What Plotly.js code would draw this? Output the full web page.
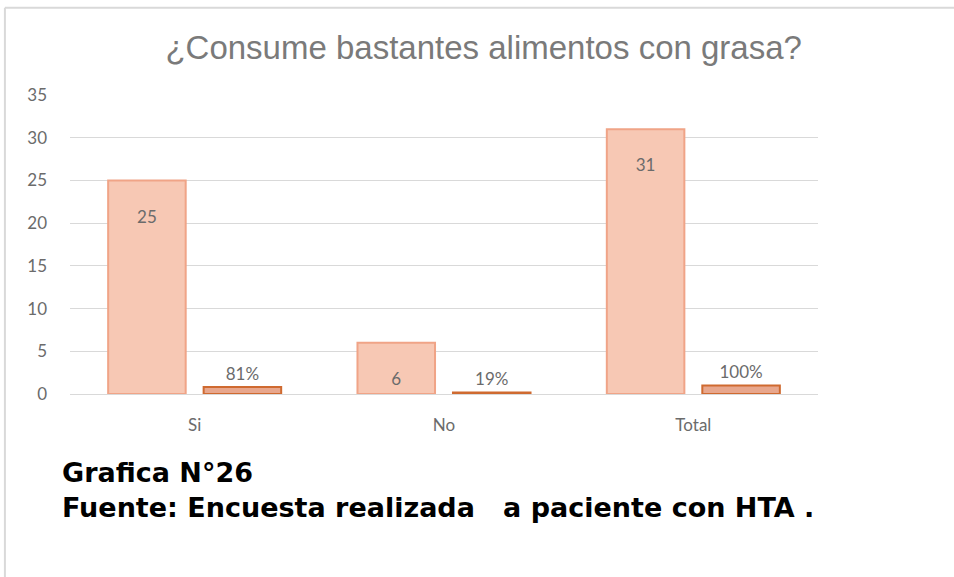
<!DOCTYPE html>
<html>
<head>
<meta charset="utf-8">
<script src="https://cdn.plot.ly/plotly-3.0.1.min.js"></script>
<style>
html,body{margin:0;padding:0;background:#fff;}
#chart{width:954px;height:577px;}
</style>
</head>
<body>
<div id="chart"></div>
<script>
const categories = ["Si", "No", "Total"];
const counts = [25, 6, 31];
const shares = [0.81, 0.19, 1.0];
const shareLabels = ["81%", "19%", "100%"];
const chartTitle = "¿Consume bastantes alimentos con grasa?";
const captionLine1 = "Grafica N°26";
const captionLine2 = "Fuente: Encuesta realizada\u00a0\u00a0\u00a0a paciente con HTA .";
const yTicks = [0, 5, 10, 15, 20, 25, 30, 35];

const labelFont = {family: "Lato, 'Open Sans', sans-serif", size: 17, color: "#6b6b6b"};

const traces = [
  {
    type: "bar",
    x: categories,
    y: counts,
    text: counts.map(v => "\u00a0<br>" + v),
    textposition: "inside",
    insidetextanchor: "end",
    constraintext: "none",
    textfont: labelFont,
    insidetextfont: labelFont,
    marker: {color: "#f7c8b4", line: {color: "#f0a487", width: 2}},
    hoverinfo: "skip",
    cliponaxis: false
  },
  {
    type: "bar",
    x: categories,
    y: shares,
    text: shareLabels,
    textposition: "outside",
    constraintext: "none",
    textfont: labelFont,
    outsidetextfont: labelFont,
    marker: {color: "#e8a78d", line: {color: "#cf6a30", width: 2}},
    hoverinfo: "skip",
    cliponaxis: false
  }
];

const layout = {
  width: 954,
  height: 577,
  margin: {l: 70, r: 136, t: 95, b: 183},
  paper_bgcolor: "#ffffff",
  plot_bgcolor: "#ffffff",
  showlegend: false,
  barmode: "group",
  bargap: 0.234,
  bargroupgap: 0.188,
  title: {
    text: chartTitle,
    x: 0.507, xanchor: "center", xref: "container",
    y: 47, yref: "container", yanchor: "middle",
    font: {family: "'Liberation Sans', Arial, sans-serif", size: 33, color: "#7a7a7a"}
  },
  xaxis: {
    showgrid: false,
    showline: false,
    zeroline: false,
    ticks: "",
    ticklabelstandoff: 19,
    tickfont: labelFont
  },
  yaxis: {
    range: [0, 35],
    tickvals: yTicks,
    ticktext: yTicks.map(String),
    showgrid: true,
    gridcolor: "#d9d9d9",
    gridwidth: 1,
    zeroline: true,
    zerolinecolor: "#d9d9d9",
    zerolinewidth: 1,
    showline: false,
    ticks: "",
    ticklabelstandoff: 22,
    tickfont: labelFont
  },
  shapes: [
    {type: "line", xref: "paper", yref: "paper", x0: -0.087, x1: 1.19, y0: 1.292, y1: 1.292, line: {color: "#d9d9d9", width: 2}},
    {type: "line", xref: "paper", yref: "paper", x0: -0.087, x1: -0.087, y0: 1.292, y1: -0.62, line: {color: "#d9d9d9", width: 2}}
  ],
  annotations: [
    {text: "<b>" + captionLine1 + "</b>", xref: "paper", yref: "paper", x: -0.0135, y: -0.261, xanchor: "left", yanchor: "middle", showarrow: false,
     font: {family: "'DejaVu Sans', sans-serif", size: 27, color: "#000"}},
    {text: "<b>" + captionLine2 + "</b>", xref: "paper", yref: "paper", x: -0.0135, y: -0.381, xanchor: "left", yanchor: "middle", showarrow: false,
     font: {family: "'DejaVu Sans', sans-serif", size: 27, color: "#000"}}
  ]
};

Plotly.newPlot("chart", traces, layout, {displayModeBar: false, staticPlot: true});
</script>
</body>
</html>
